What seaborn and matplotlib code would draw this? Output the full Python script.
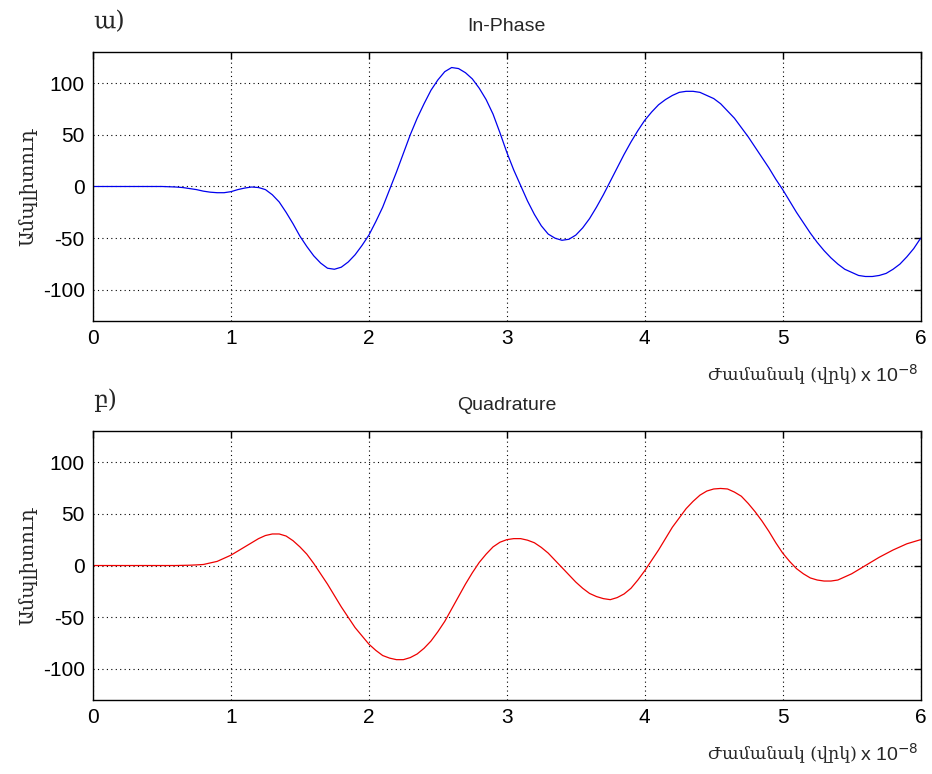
import numpy as np
import pandas as pd
import matplotlib
matplotlib.use("Agg")
import matplotlib.pyplot as plt
import seaborn as sns

# time in units of 1e-8 s
t_inphase = [0.0, 0.5, 0.6, 0.65, 0.7, 0.75, 0.8, 0.85, 0.9, 0.95, 1.0, 1.05, 1.1, 1.15, 1.2, 1.25,
             1.3, 1.35, 1.4, 1.45, 1.5, 1.55, 1.6, 1.65, 1.7, 1.75, 1.8, 1.85, 1.9, 1.95, 2.0,
             2.05, 2.1, 2.15, 2.2, 2.25, 2.3, 2.35, 2.4, 2.45, 2.5, 2.55, 2.6, 2.65, 2.7, 2.75,
             2.8, 2.85, 2.9, 2.95, 3.0, 3.05, 3.1, 3.15, 3.2, 3.25, 3.3, 3.35, 3.4, 3.45, 3.5,
             3.55, 3.6, 3.65, 3.7, 3.75, 3.8, 3.85, 3.9, 3.95, 4.0, 4.05, 4.1, 4.15, 4.2, 4.25,
             4.3, 4.35, 4.4, 4.45, 4.5, 4.55, 4.6, 4.65, 4.7, 4.75, 4.8, 4.85, 4.9, 4.95, 5.0,
             5.05, 5.1, 5.15, 5.2, 5.25, 5.3, 5.35, 5.4, 5.45, 5.5, 5.55, 5.6, 5.65, 5.7, 5.75,
             5.8, 5.85, 5.9, 5.95, 6.0]
v_inphase = [0, 0, -0.5, -1, -2, -3, -4.5, -5.5, -6, -6, -5, -3, -1.5, -0.5, -1, -3,
             -8, -15, -25, -36, -48, -58, -67, -74, -79, -80, -78, -73, -66, -57, -47,
             -34, -20, -3, 14, 32, 50, 66, 80, 93, 103, 111, 115, 114, 110, 104,
             95, 84, 70, 52, 33, 16, 1, -14, -27, -38, -46, -50, -52, -51, -47,
             -40, -31, -20, -8, 5, 18, 31, 43, 54, 64, 72, 79, 84, 88, 91,
             92, 92, 91, 88, 85, 80, 73, 66, 57, 48, 38, 28, 18, 7, -3,
             -14, -25, -35, -45, -54, -62, -69, -75, -80, -83, -86, -87, -87, -86, -84,
             -80, -75, -68, -60, -50]

t_quad = [0.0, 0.6, 0.7, 0.75, 0.8, 0.85, 0.9, 0.95, 1.0, 1.05, 1.1, 1.15, 1.2, 1.25, 1.3, 1.35,
          1.4, 1.45, 1.5, 1.55, 1.6, 1.65, 1.7, 1.75, 1.8, 1.85, 1.9, 1.95, 2.0, 2.05, 2.1,
          2.15, 2.2, 2.25, 2.3, 2.35, 2.4, 2.45, 2.5, 2.55, 2.6, 2.65, 2.7, 2.75, 2.8, 2.85,
          2.9, 2.95, 3.0, 3.05, 3.1, 3.15, 3.2, 3.25, 3.3, 3.35, 3.4, 3.45, 3.5, 3.55, 3.6,
          3.65, 3.7, 3.75, 3.8, 3.85, 3.9, 3.95, 4.0, 4.05, 4.1, 4.15, 4.2, 4.25, 4.3, 4.35,
          4.4, 4.45, 4.5, 4.55, 4.6, 4.65, 4.7, 4.75, 4.8, 4.85, 4.9, 4.95, 5.0, 5.05, 5.1,
          5.15, 5.2, 5.25, 5.3, 5.35, 5.4, 5.45, 5.5, 5.55, 5.6, 5.65, 5.7, 5.75, 5.8, 5.85,
          5.9, 5.95, 6.0]
v_quad = [0, 0, 0.3, 0.6, 1, 2.5, 4, 7, 10, 14, 18, 22, 26, 29, 30.5, 30.5,
          28.5, 24, 18, 11, 2, -8, -18, -29, -40, -50, -60, -68, -76, -82, -87,
          -89.5, -91, -91, -89, -85.5, -80, -73, -64, -54, -42, -30, -18, -7, 3, 11,
          18, 22.5, 25, 26, 26, 24.5, 22, 17.5, 12, 5, -2, -9, -16, -22, -27,
          -30, -32, -33, -31, -27.5, -22, -14, -5, 5, 15, 26, 37, 46, 55, 62,
          68, 72, 74, 74.5, 74, 71, 67, 60, 52, 43, 33, 22, 12, 4, -3,
          -8, -12, -14, -15, -15, -14, -11, -8, -4, 0, 4, 8, 11.5, 15, 18,
          21, 23, 25]

xticks = [0, 1, 2, 3, 4, 5, 6]
yticks = [-100, -50, 0, 50, 100]
titles = ["In-Phase", "Quadrature"]
panel_labels = ["ա)", "բ)"]
ylabel = "Ամպլիտուդ"
xlabel = "Ժամանակ (վրկ)"

sns.set_theme(style="white")
plt.rcParams["font.family"] = ["Liberation Sans", "DejaVu Sans"]
plt.rcParams["xtick.direction"] = "in"
plt.rcParams["ytick.direction"] = "in"

fig = plt.figure(figsize=(9.32, 7.74), dpi=100)
ax1 = fig.add_axes([0.0998, 0.5853, 0.888, 0.3475])
ax2 = fig.add_axes([0.0998, 0.0956, 0.888, 0.3475])

df1 = pd.DataFrame({"t": t_inphase, "v": v_inphase})
df2 = pd.DataFrame({"t": t_quad, "v": v_quad})

armen = ["DejaVu Serif", "DejaVu Sans"]

for ax, df, color, title, plabel in [(ax1, df1, "#0000ee", titles[0], panel_labels[0]),
                                     (ax2, df2, "#ee0000", titles[1], panel_labels[1])]:
    sns.lineplot(data=df, x="t", y="v", ax=ax, color=color, linewidth=0.9)
    ax.set_xlim(0, 6)
    ax.set_ylim(-130, 130)
    ax.set_xticks(xticks)
    ax.set_yticks(yticks)
    ax.set_xticklabels([str(x) for x in xticks], fontsize=15)
    ax.set_yticklabels([str(y) for y in yticks], fontsize=15)
    ax.grid(True, linestyle=(0, (1, 3)), color="black", linewidth=0.8)
    for s in ax.spines.values():
        s.set_color("black")
        s.set_linewidth(1.0)
    ax.tick_params(axis="both", length=5, width=1, color="black", pad=6,
                   top=True, right=True, labelcolor="black")
    ax.set_xlabel("")
    ax.set_ylabel(ylabel, family=armen, fontsize=14, labelpad=4)
    ax.set_title(title, fontsize=14, pad=15)
    ax.text(0.0, 1.07, plabel, transform=ax.transAxes, family=armen, fontsize=17,
            ha="left", va="bottom")
    ax.text(0.923, -0.2, xlabel, transform=ax.transAxes, family=armen, fontsize=12.5,
            ha="right", va="center")
    ax.text(0.927, -0.2, "x 10$^{-8}$", transform=ax.transAxes, fontsize=14,
            ha="left", va="center")

fig.savefig("out.png", dpi=100, facecolor="white")
